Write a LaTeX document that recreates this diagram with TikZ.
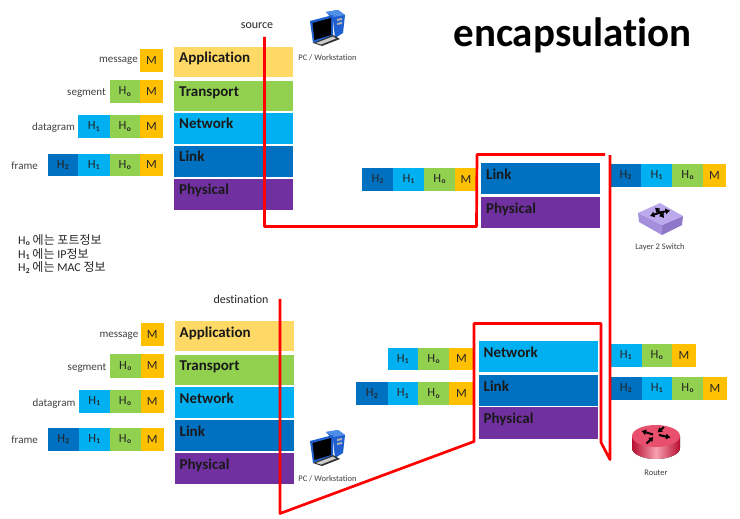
\documentclass[tikz,border=0pt]{standalone}
\usepackage{fontspec}
\setmainfont{Carlito}[Ligatures=NoCommon]
\newfontfamily\krfont{Noto Sans CJK KR}
\usetikzlibrary{arrows.meta}
\definecolor{cApp}{HTML}{FFD966}
\definecolor{cTra}{HTML}{92D050}
\definecolor{cNet}{HTML}{00B0F0}
\definecolor{cLnk}{HTML}{0070C0}
\definecolor{cPhy}{HTML}{7030A0}
\definecolor{cMsg}{HTML}{FFC000}
\definecolor{cTxt}{HTML}{404040}
\definecolor{cSwTop}{HTML}{BCA8EC}
\definecolor{cSwL}{HTML}{A48FDC}
\definecolor{cSwR}{HTML}{8E76C8}
\definecolor{cRtTop}{HTML}{E8506E}
\definecolor{cRtSide}{HTML}{B80E30}
\definecolor{cRtHi}{HTML}{F6A0B0}
\definecolor{cPcA}{HTML}{1F5FD0}
\definecolor{cPcB}{HTML}{4F8FE8}
\newcommand{\HH}[1]{H\kern0.3pt\raisebox{-1.2pt}{\fontsize{7.5}{8}\selectfont\bfseries #1}}
% name, x0, y0, x1, y1, colour, text
\newcommand{\cellbox}[7]{\pgfmathsetmacro{\cellw}{#4-#2}\pgfmathsetmacro{\cellh}{#5-#3}%
  \node[cellstyle,fill=#6,minimum width=\cellw pt,minimum height=\cellh pt] (#1) at ({(#2+#4)/2},{(#3+#5)/2}) {#7};}
\newcommand{\layerbox}[7]{\pgfmathsetmacro{\cellw}{#4-#2-10}\pgfmathsetmacro{\celld}{#5-#3-16.2}%
  \node[layerstyle,fill=#6,text width=\cellw pt,text depth=\celld pt] (#1) at (#2,#3) {#7};}
\tikzset{
  cellstyle/.style={inner sep=0pt,font=\fontsize{12.5}{14}\selectfont,text=black!85},
  layerstyle/.style={anchor=north west,inner ysep=0pt,inner xsep=5pt,align=left,text height=16.2pt,
     font=\fontsize{15}{18}\selectfont\bfseries,text=black!90},
  tagtext/.style={anchor=base east,inner sep=0pt,font=\fontsize{11}{13}\selectfont,text=cTxt},
  captext/.style={anchor=base,inner sep=0pt,font=\fontsize{8.5}{10}\selectfont,text=cTxt},
  endlabel/.style={anchor=base,inner sep=0pt,font=\fontsize{12}{14}\selectfont,text=black!85},
  redline/.style={draw=red,line width=2.7pt,line join=round},
  pics/pcicon/.style={code={
    \fill[cPcA] (16,2)--(28,0)--(35,5)--(33,23)--(25,28)--(23,10)--cycle;
    \fill[cPcB] (16,2)--(28,0)--(35,5)--(23,7)--cycle;
    \fill[gray!60] (27,9)--(32,8)--(32,10)--(27,11)--cycle (27,13)--(32,12)--(32,14)--(27,15)--cycle;
    \fill[cPcA] (0,11)--(23,5)--(23,27)--(3,33)--cycle;
    \fill[black] (2.5,13)--(21,8)--(21,25)--(4.5,30)--cycle;
    \fill[black!80] (3,33)--(23,25)--(30,29)--(12,36)--cycle;
    \fill[gray!40] (6,33)--(23,26.5)--(26,28.5)--(11,34.5)--cycle;
  }},
  xarrow/.style={line width=2pt,-{Latex[length=4.5pt,width=6.5pt]},black},
}
\begin{document}
\begin{tikzpicture}[x=1pt,y=-1pt]
\useasboundingbox (0,0) rectangle (740,519);
\fill[white] (0,0) rectangle (740,519);

\node[anchor=base,inner sep=0pt,font=\fontsize{41}{46}\selectfont\bfseries] (title) at (572.5,47) {encapsulation};

% --- source host: packets
\node[tagtext] (t1) at (138,63) {message};
\cellbox{a1}{140}{49}{163}{72}{cMsg}{M}
\node[tagtext] (t2) at (106,95.5) {segment};
\cellbox{b1}{109.5}{80}{140}{103}{cTra}{\HH{o}}
\cellbox{b2}{140}{80}{163}{103}{cMsg}{M}
\node[tagtext] (t3) at (75,131) {datagram};
\cellbox{c1}{78}{115}{109.5}{138}{cNet}{\HH{1}}
\cellbox{c2}{109.5}{115}{140}{138}{cTra}{\HH{o}}
\cellbox{c3}{140}{115}{163}{138}{cMsg}{M}
\node[tagtext] (t4) at (38,169) {frame};
\cellbox{d1}{47.5}{153.5}{78}{176}{cLnk}{\HH{2}}
\cellbox{d2}{78}{153.5}{109.5}{176}{cNet}{\HH{1}}
\cellbox{d3}{109.5}{153.5}{140}{176}{cTra}{\HH{o}}
\cellbox{d4}{140}{153.5}{163}{176}{cMsg}{M}

% --- source host: layers
\layerbox{sA}{174}{46.5}{293}{77}{cApp}{Application}
\layerbox{sT}{174}{80.5}{293}{111}{cTra}{Transport}
\layerbox{sN}{174}{112.5}{293}{144}{cNet}{Network}
\layerbox{sL}{174}{145.5}{293}{177}{cLnk}{Link}
\layerbox{sP}{174}{178.5}{293}{210}{cPhy}{Physical}

% --- destination host: packets
\node[tagtext] (u1) at (138.5,337) {message};
\cellbox{e1}{140.5}{323}{164}{346}{cMsg}{M}
\node[tagtext] (u2) at (106.5,370) {segment};
\cellbox{f1}{110}{354}{140.5}{377.5}{cTra}{\HH{o}}
\cellbox{f2}{140.5}{354}{164}{377.5}{cMsg}{M}
\node[tagtext] (u3) at (75.5,406) {datagram};
\cellbox{g1}{79}{389.5}{109.5}{413}{cNet}{\HH{1}}
\cellbox{g2}{109.5}{389.5}{140.5}{413}{cTra}{\HH{o}}
\cellbox{g3}{140.5}{389.5}{164}{413}{cMsg}{M}
\node[tagtext] (u4) at (38,443.5) {frame};
\cellbox{h1}{47.5}{427.5}{79}{451}{cLnk}{\HH{2}}
\cellbox{h2}{79}{427.5}{109.5}{451}{cNet}{\HH{1}}
\cellbox{h3}{109.5}{427.5}{140.5}{451}{cTra}{\HH{o}}
\cellbox{h4}{140.5}{427.5}{164}{451}{cMsg}{M}

% --- destination host: layers
\layerbox{dA}{174.5}{321}{293.5}{351}{cApp}{Application}
\layerbox{dT}{174.5}{354.5}{293.5}{385}{cTra}{Transport}
\layerbox{dN}{174.5}{387}{293.5}{418}{cNet}{Network}
\layerbox{dL}{174.5}{420}{293.5}{451}{cLnk}{Link}
\layerbox{dP}{174.5}{453}{293.5}{484}{cPhy}{Physical}

% --- switch
\cellbox{i1}{362}{168}{393}{190.5}{cLnk}{\HH{2}}
\cellbox{i2}{393}{168}{424}{190.5}{cNet}{\HH{1}}
\cellbox{i3}{424}{168}{455}{190.5}{cTra}{\HH{o}}
\cellbox{i4}{455}{168}{477}{190.5}{cMsg}{M}
\layerbox{wL}{481}{163}{600}{193.5}{cLnk}{Link}
\layerbox{wP}{481}{197}{600}{228}{cPhy}{Physical}
\cellbox{j1}{610}{163.5}{641}{186.5}{cLnk}{\HH{2}}
\cellbox{j2}{641}{163.5}{672}{186.5}{cNet}{\HH{1}}
\cellbox{j3}{672}{163.5}{703}{186.5}{cTra}{\HH{o}}
\cellbox{j4}{703}{163.5}{726}{186.5}{cMsg}{M}

% --- router
\cellbox{k1}{387.5}{347.5}{418}{370}{cNet}{\HH{1}}
\cellbox{k2}{418}{347.5}{449}{370}{cTra}{\HH{o}}
\cellbox{k3}{449}{347.5}{474}{370}{cMsg}{M}
\cellbox{l1}{356}{382}{387.5}{405}{cLnk}{\HH{2}}
\cellbox{l2}{387.5}{382}{418}{405}{cNet}{\HH{1}}
\cellbox{l3}{418}{382}{449}{405}{cTra}{\HH{o}}
\cellbox{l4}{449}{382}{474}{405}{cMsg}{M}
\layerbox{rN}{478.5}{341}{597.5}{371.5}{cNet}{Network}
\layerbox{rL}{478.5}{375}{597.5}{405.5}{cLnk}{Link}
\layerbox{rP}{478.5}{407}{597.5}{438.5}{cPhy}{Physical}
\cellbox{m1}{610}{343.5}{641.5}{366.5}{cNet}{\HH{1}}
\cellbox{m2}{641.5}{343.5}{672}{366.5}{cTra}{\HH{o}}
\cellbox{m3}{672}{343.5}{696}{366.5}{cMsg}{M}
\cellbox{n1}{610}{377}{641.5}{399.5}{cLnk}{\HH{2}}
\cellbox{n2}{641.5}{377}{672}{399.5}{cNet}{\HH{1}}
\cellbox{n3}{672}{377}{703}{399.5}{cTra}{\HH{o}}
\cellbox{n4}{703}{377}{727}{399.5}{cMsg}{M}

% --- end labels and captions
\node[endlabel] (src) at (257,29) {source};
\node[endlabel] (dst) at (241,303) {destination};
\node[captext] (pc1) at (327.5,60.5) {PC / Workstation};
\node[captext] (pc2) at (327.5,481) {PC / Workstation};
\node[captext] (swl) at (660,249.5) {Layer 2 Switch};
\node[captext] (rtl) at (656,475.5) {Router};

% --- note
\node[anchor=north west,inner sep=0pt,align=left,font=\fontsize{12}{13.6}\selectfont,text=black!85] (note) at (18,234.5)
  {\HH{o} {\krfont 에는 포트정보}\\ \HH{1} {\krfont 에는} IP{\krfont 정보}\\ \HH{2} {\krfont 에는} MAC {\krfont 정보}};

% --- icons
\pic at (310,10) {pcicon};
\pic at (310,430) {pcicon};

% switch icon
\fill[cSwL] (638,213)--(639,222)--(662,235)--(662,225)--cycle;
\fill[cSwR] (662,225)--(662,235)--(682,225)--(683,216)--cycle;
\fill[cSwTop] (638,213)--(660,203)--(683,216)--(662,225)--cycle;
\draw[xarrow] (660,212.5) -- (650,216);
\draw[xarrow] (660,212.5) -- (655,207.5);
\draw[xarrow] (660,212.5) -- (670,210.5);
\draw[xarrow] (660,212.5) -- (664,218);

% router icon
\fill[left color=cRtSide,right color=cRtSide,middle color=cRtHi] (632,436) -- (632,448) arc[start angle=180,end angle=0,x radius=24,y radius=11] -- (680,436) -- cycle;
\fill[cRtTop] (656,436) ellipse[x radius=24,y radius=11];
\draw[xarrow] (653,434.5) -- (641.5,431);
\draw[xarrow] (664,427) -- (657.5,432.5);
\draw[xarrow] (659,435) -- (670.5,437.5);
\draw[xarrow] (646.5,443.5) -- (653.5,437);

% --- red path
\coordinate (p0) at (264.5,37);
\coordinate (p1) at (264.5,226.5);
\coordinate (p2) at (476.5,226.5);
\coordinate (p3) at (477,154.5);
\coordinate (p4) at (605,154.5);
\coordinate (q0) at (610,155);
\coordinate (q1) at (610,459.5);
\coordinate (q2) at (601,442.5);
\coordinate (q3) at (601,323.5);
\coordinate (q4) at (474,323.5);
\coordinate (q5) at (474,441.5);
\coordinate (q6) at (280,513.5);
\coordinate (q7) at (280,299);
\draw[redline] (p0)--(p1)--(p2)--(p3)--(p4);
\draw[redline] (q0)--(q1)--(q2)--(q3)--(q4)--(q5)--(q6)--(q7);
\end{tikzpicture}
\end{document}
